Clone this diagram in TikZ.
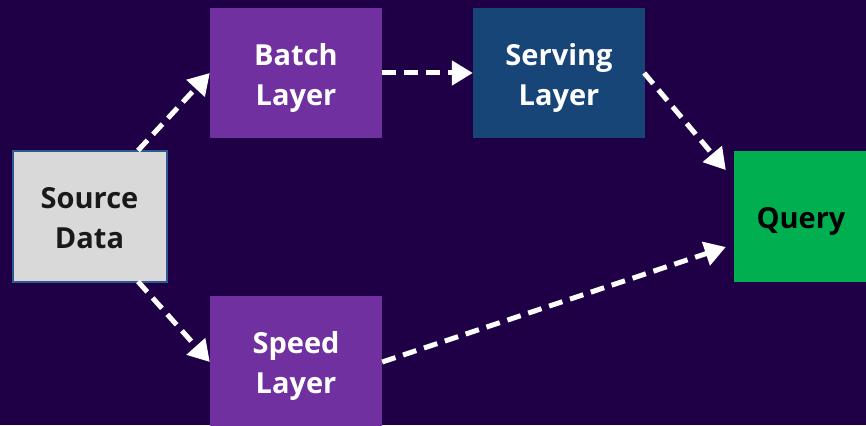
\documentclass[tikz,border=0pt]{standalone}
\usepackage{fontspec}
\setmainfont{Open Sans}
\usetikzlibrary{arrows.meta}
\definecolor{bgc}{HTML}{1F0047}
\definecolor{purp}{HTML}{7030A0}
\definecolor{servc}{HTML}{174577}
\definecolor{qgreen}{HTML}{00B050}
\definecolor{srcgray}{HTML}{D9D9D9}
\definecolor{srcborder}{HTML}{2F5A8F}
\newcommand{\boxtxt}[1]{\raisebox{-11pt}[0pt][0pt]{\begin{tabular}{@{}c@{}}#1\end{tabular}}}
\tikzset{
  box/.style={rectangle, inner sep=0pt, font=\fontsize{29}{40}\selectfont\bfseries},
  flow/.style={white, line width=5pt, dash pattern=on 14pt off 8pt,
    -{Triangle[length=21pt,width=24pt]}, shorten >=0pt}
}
\begin{document}
\begin{tikzpicture}[x=1pt,y=-1pt]
\fill[bgc] (0,0) rectangle (866,425);
\useasboundingbox (0,0) rectangle (866,425);
\node[box, fill=srcgray, draw=srcborder, line width=2pt, text=black!90,
  minimum width=154pt, minimum height=131pt] (src) at (89.5,216) {\boxtxt{Source\\Data}};
\node[box, fill=purp, text=white, minimum width=172pt, minimum height=130pt] (batch) at (296,73) {\boxtxt{Batch\\Layer}};
\node[box, fill=servc, text=white, minimum width=172pt, minimum height=130pt] (serv) at (559,73) {\boxtxt{Serving\\Layer}};
\node[box, fill=qgreen, text=black, minimum width=134pt, minimum height=131pt] (query) at (801,216) {\boxtxt{Query}};
\node[box, fill=purp, text=white, minimum width=172pt, minimum height=130pt] (speed) at (296,361) {\boxtxt{Speed\\Layer}};
\draw[flow] ([xshift=48.5pt,yshift=-1pt]src.north) -- (batch.west);
\draw[flow] (batch.east) -- (serv.west);
\draw[flow] ([xshift=-1pt]serv.east) -- ([xshift=-8pt,yshift=46pt]query.west);
\draw[flow] ([xshift=48.5pt,yshift=1pt]src.south) -- ([yshift=-1pt]speed.west);
\draw[flow] ([yshift=-1pt]speed.east) -- ([xshift=-8pt,yshift=-31pt]query.west);
\end{tikzpicture}
\end{document}
